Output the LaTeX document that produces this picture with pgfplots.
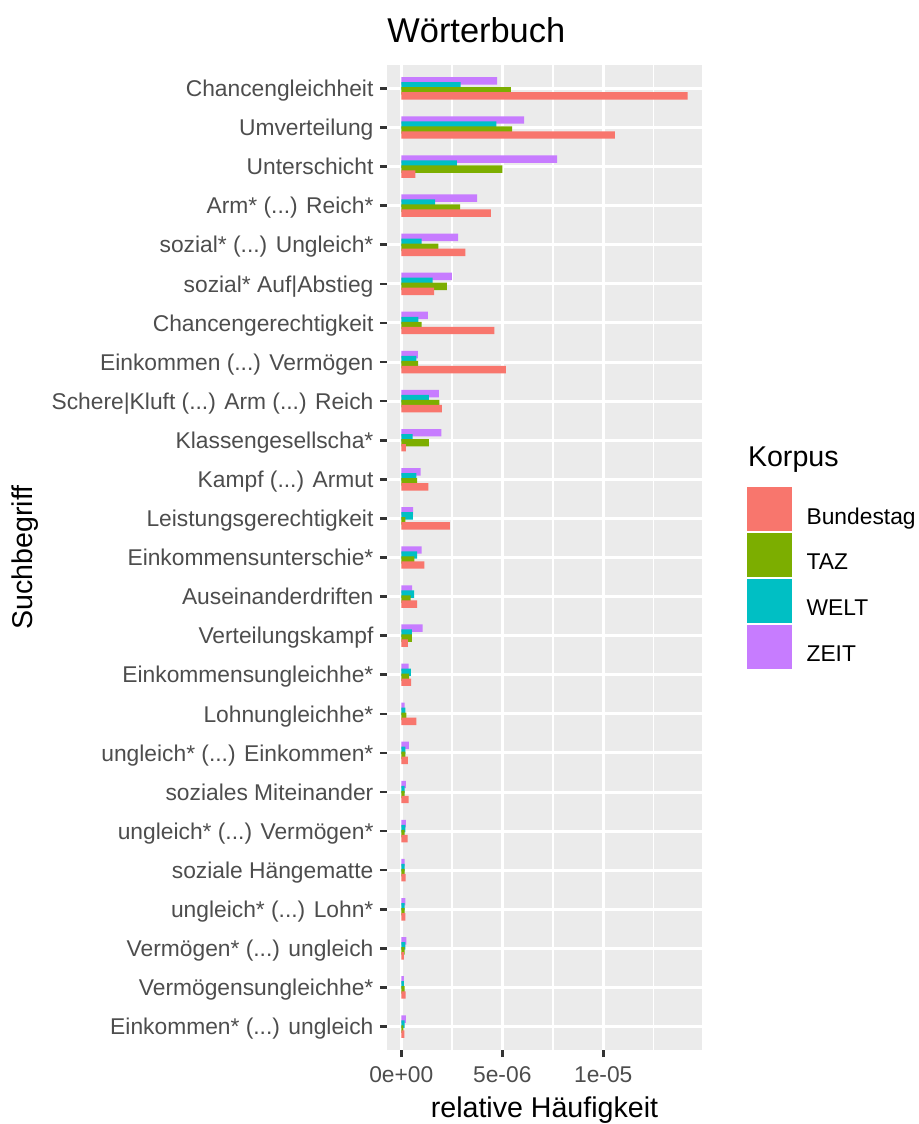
\documentclass[border=0pt]{standalone}
\usepackage{pgfplots}
\pgfplotsset{compat=1.18}
\usepackage{pgfplotstable}
\usepackage{fontspec}
\setmainfont{Liberation Sans}
\definecolor{cB}{HTML}{F8766D}
\definecolor{cT}{HTML}{7CAE00}
\definecolor{cW}{HTML}{00BFC4}
\definecolor{cZ}{HTML}{C77CFF}
\definecolor{panel}{HTML}{EBEBEB}
\definecolor{gthirty}{HTML}{4D4D4D}
\definecolor{gtwenty}{HTML}{333333}
\newcommand{\dd}{(...)}
% values in units of 1e-06
\pgfplotstableread{
idx B T W Z
0 0.15 0.10 0.16 0.23
1 0.21 0.16 0.13 0.13
2 0.13 0.16 0.20 0.25
3 0.20 0.16 0.16 0.20
4 0.21 0.16 0.16 0.16
5 0.31 0.16 0.20 0.23
6 0.36 0.16 0.16 0.23
7 0.33 0.20 0.20 0.38
8 0.75 0.25 0.20 0.16
9 0.49 0.39 0.47 0.36
10 0.33 0.52 0.52 1.05
11 0.78 0.46 0.64 0.54
12 1.14 0.65 0.78 1.01
13 2.40 0.20 0.57 0.59
14 1.34 0.78 0.75 0.96
15 0.23 1.36 0.56 1.98
16 2.01 1.88 1.37 1.86
17 5.18 0.83 0.74 0.82
18 4.61 1.00 0.85 1.31
19 1.62 2.25 1.55 2.50
20 3.17 1.83 1.01 2.81
21 4.43 2.91 1.67 3.76
22 0.69 5.00 2.75 7.71
23 10.57 5.49 4.71 6.08
24 14.18 5.42 2.94 4.74
}\data
\begin{document}
\begin{tikzpicture}
\useasboundingbox (0,0) rectangle (459.5pt,562pt);
\begin{axis}[
  at={(193.5pt,37pt)}, anchor=south west,
  scale only axis, width=157.5pt, height=492.5pt,
  xmin=-0.709, xmax=14.89, ymin=-0.6, ymax=24.6,
  axis background/.style={fill=panel},
  axis line style={draw=none},
  xbar, bar width=0.19,
  xtick={0,5,10}, xticklabels={0e+00,5e-06,1e-05},
  minor xtick={2.5,7.5,12.5},
  ytick={0,1,2,3,4,5,6,7,8,9,10,11,12,13,14,15,16,17,18,19,20,21,22,23,24},
  yticklabels={{Einkommen* \dd{} ungleich}, {Vermögensungleichhe*}, {Vermögen* \dd{} ungleich}, {ungleich* \dd{} Lohn*}, {soziale Hängematte}, {ungleich* \dd{} Vermögen*}, {soziales Miteinander}, {ungleich* \dd{} Einkommen*}, {Lohnungleichhe*}, {Einkommensungleichhe*}, {Verteilungskampf}, {Auseinanderdriften}, {Einkommensunterschie*}, {Leistungsgerechtigkeit}, {Kampf \dd{} Armut}, {Klassengesellscha*}, {Schere|Kluft \dd{} Arm \dd{} Reich}, {Einkommen \dd{} Vermögen}, {Chancengerechtigkeit}, {sozial* Auf|Abstieg}, {sozial* \dd{} Ungleich*}, {Arm* \dd{} Reich*}, {Unterschicht}, {Umverteilung}, {Chancengleichheit}},
  tick align=outside, major tick length=3.6pt, minor tick length=0pt,
  xtick pos=left, ytick pos=left,
  major tick style={gtwenty, line width=1.3pt},
  xmajorgrids, xminorgrids, ymajorgrids,
  major grid style={white, line width=1.5pt},
  minor grid style={white, line width=0.75pt},
  tick label style={font=\fontsize{11.4}{13}\selectfont, text=gthirty},
  yticklabel style={anchor=east, inner sep=0pt, text height=8.2pt, text depth=0pt, xshift=-3pt},
  xticklabel style={anchor=base, inner sep=0pt, yshift=-12.5pt},
  legend style={at={(1.1416,0.5713)}, anchor=north west, draw=none, fill=none,
    inner sep=0pt, outer sep=0pt, row sep=1pt,
    font=\fontsize{11.4}{13}\selectfont,
    nodes={inner sep=0pt}},
  legend cell align=left,
  reverse legend,
  legend image code/.code={\fill[#1] (0pt,-7pt) rectangle (22.5pt,15pt); \path (30pt,0pt);},
]
\addplot[fill=cZ, draw=none, bar shift=0.192] table[x=Z, y=idx] {\data};
\addlegendentry{ZEIT}
\addplot[fill=cW, draw=none, bar shift=0.064] table[x=W, y=idx] {\data};
\addlegendentry{WELT}
\addplot[fill=cT, draw=none, bar shift=-0.064] table[x=T, y=idx] {\data};
\addlegendentry{TAZ}
\addplot[fill=cB, draw=none, bar shift=-0.192] table[x=B, y=idx] {\data};
\addlegendentry{Bundestag}
\end{axis}
\node[anchor=base west, inner sep=0pt, font=\fontsize{17.2}{20}\selectfont] at (193.5pt,540.5pt) {Wörterbuch};
\node[anchor=base west, inner sep=0pt, font=\fontsize{14.3}{17}\selectfont] at (373.8pt,328.5pt) {Korpus};
\node[anchor=base, inner sep=0pt, font=\fontsize{14.3}{17}\selectfont] at (272.25pt,3pt) {relative Häufigkeit};
\node[anchor=base, inner sep=0pt, rotate=90, font=\fontsize{14.3}{17}\selectfont] at (16.5pt,283.25pt) {Suchbegriff};
\end{tikzpicture}
\end{document}
